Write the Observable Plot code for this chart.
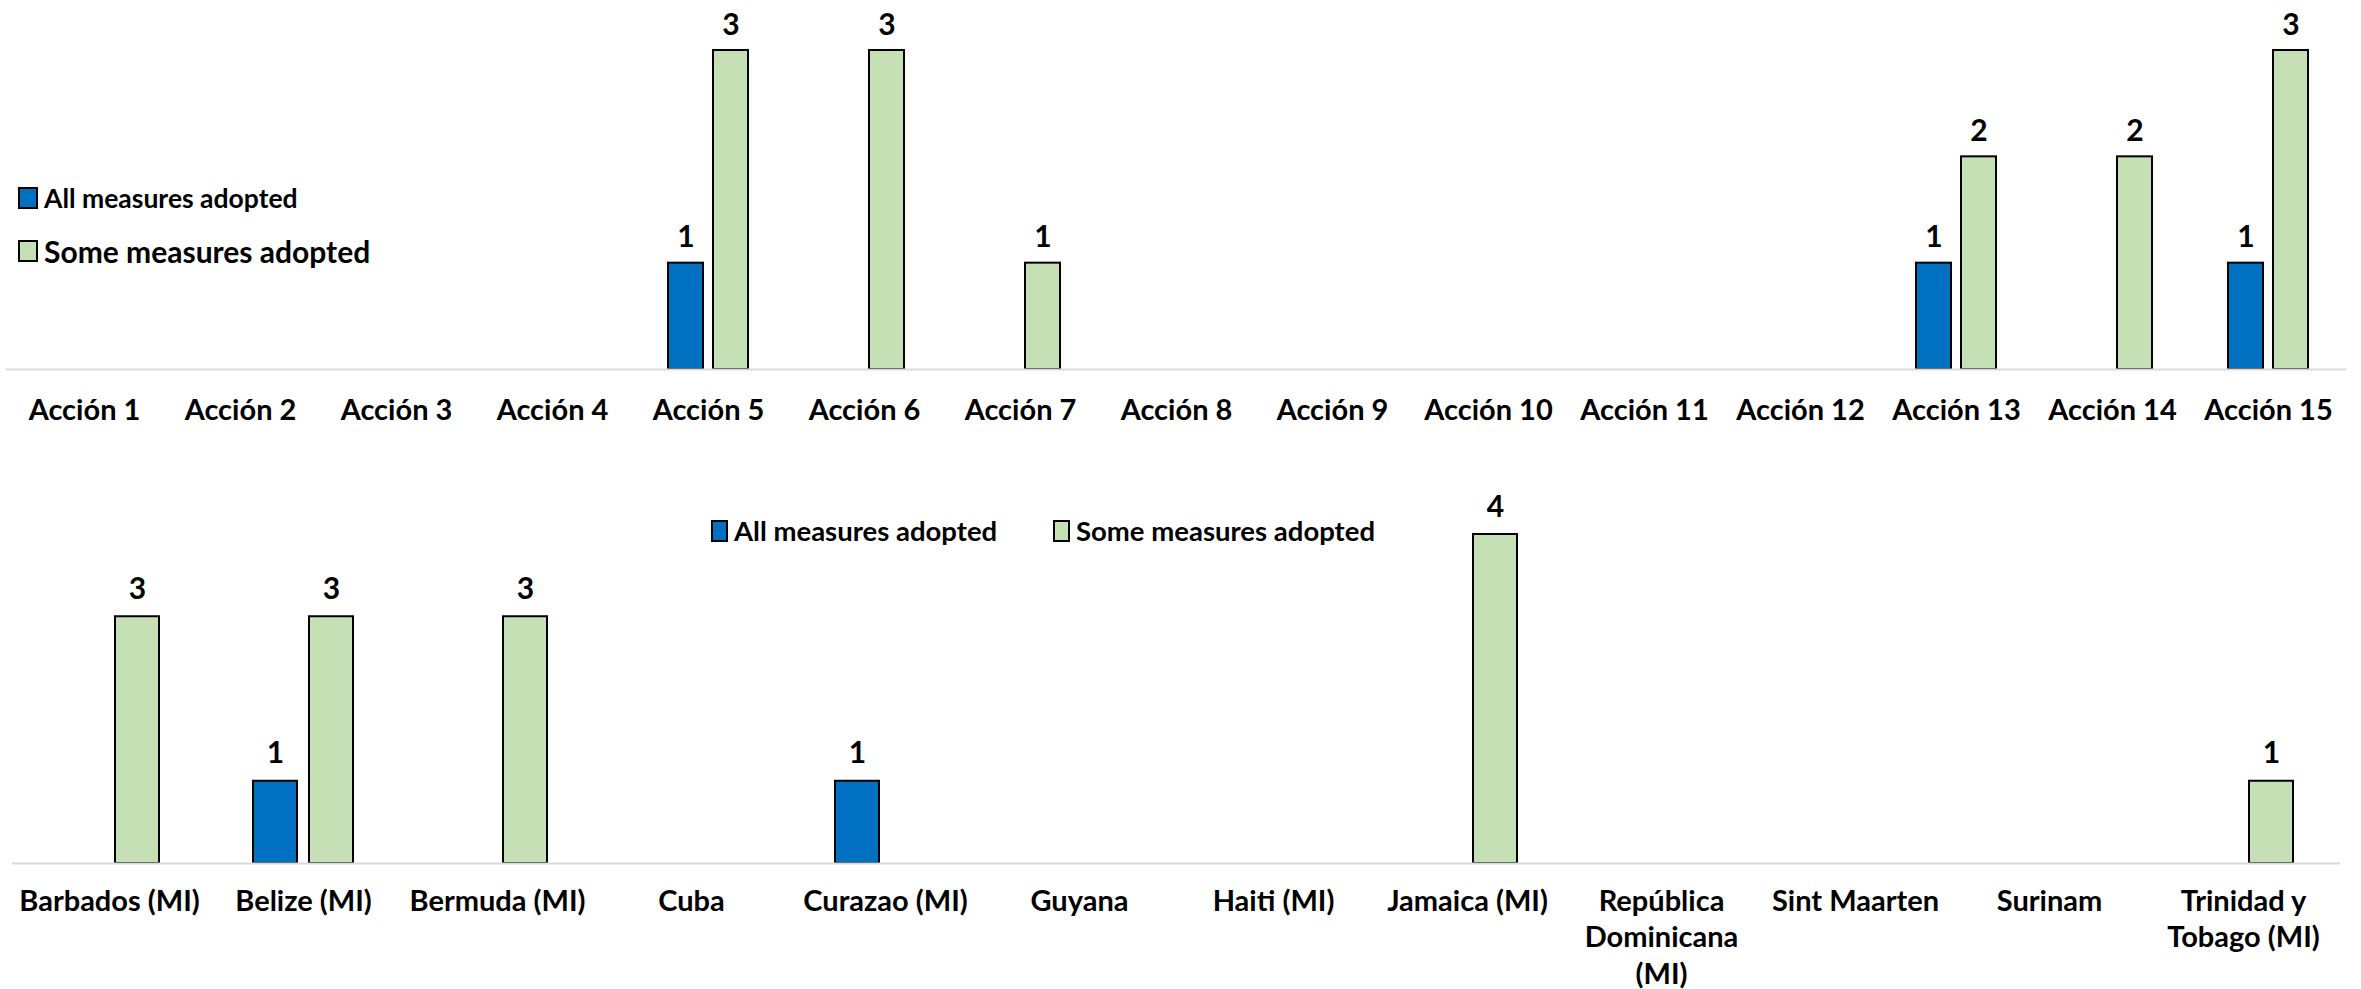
<!DOCTYPE html>
<html>
<head>
<meta charset="utf-8">
<script src="https://cdn.jsdelivr.net/npm/d3@7"></script>
<script src="https://cdn.jsdelivr.net/npm/@observablehq/plot@0.6"></script>
<style>
  html, body { margin: 0; padding: 0; background: #fff; }
  #wrap { position: relative; width: 2361px; height: 989px; font-family: Lato, "Open Sans", sans-serif; font-weight: bold; color: #000; }
  .legend { position: absolute; display: flex; align-items: center; white-space: nowrap; }
  .sw { display: inline-block; box-sizing: border-box; border: 2px solid #000; margin-right: 6px; }
  #top, #bottom { position: absolute; left: 0; }
  #top { top: 0; }
  #bottom { top: 480px; }
</style>
</head>
<body>
<div id="wrap">
  <div id="top"></div>
  <div id="bottom"></div>
  <div class="legend" style="left:18px; top:182px; font-size:26.5px;"><span class="sw" style="width:20px;height:22px;background:#0070C0"></span>All measures adopted</div>
  <div class="legend" style="left:18px; top:233px; font-size:30px;"><span class="sw" style="width:20px;height:22px;background:#C5E0B4"></span>Some measures adopted</div>
  <div class="legend" style="left:711px; top:514px; font-size:27.5px;"><span class="sw" style="width:17px;height:22px;background:#0070C0"></span>All measures adopted</div>
  <div class="legend" style="left:1053px; top:514px; font-size:27.5px;"><span class="sw" style="width:17px;height:22px;background:#C5E0B4"></span>Some measures adopted</div>
</div>
<script>
const seriesNames = ["All measures adopted", "Some measures adopted"];
const seriesColors = ["#0070C0", "#C5E0B4"];

const actions = ["Acción 1", "Acción 2", "Acción 3", "Acción 4", "Acción 5", "Acción 6", "Acción 7", "Acción 8",
  "Acción 9", "Acción 10", "Acción 11", "Acción 12", "Acción 13", "Acción 14", "Acción 15"];
const actionAll  = [0, 0, 0, 0, 1, 0, 0, 0, 0, 0, 0, 0, 1, 0, 1];
const actionSome = [0, 0, 0, 0, 3, 3, 1, 0, 0, 0, 0, 0, 2, 2, 3];

const countries = ["Barbados (MI)", "Belize (MI)", "Bermuda (MI)", "Cuba", "Curazao (MI)", "Guyana", "Haiti (MI)",
  "Jamaica (MI)", "República Dominicana (MI)", "Sint Maarten", "Surinam", "Trinidad y Tobago (MI)"];
const countryTickLabels = ["Barbados (MI)", "Belize (MI)", "Bermuda (MI)", "Cuba", "Curazao (MI)", "Guyana", "Haiti (MI)",
  "Jamaica (MI)", "República\nDominicana\n(MI)", "Sint Maarten", "Surinam", "Trinidad y\nTobago (MI)"];
const countryAll  = [0, 1, 0, 0, 1, 0, 0, 0, 0, 0, 0, 0];
const countrySome = [3, 3, 3, 0, 0, 0, 0, 4, 0, 0, 0, 1];

function rows(cats, all, some) {
  const out = [];
  cats.forEach((c, i) => {
    out.push({cat: c, series: seriesNames[0], value: all[i]});
    out.push({cat: c, series: seriesNames[1], value: some[i]});
  });
  return out.filter(d => d.value > 0);
}

function chart({cats, data, height, marginTop, marginBottom, marginLeft, marginRight, yMax, tickPadding, tickFormat, labelDy}) {
  return Plot.plot({
    width: 2361,
    height,
    marginTop, marginBottom, marginLeft, marginRight,
    style: {fontFamily: "Lato, 'Open Sans', sans-serif", fontWeight: "bold", fontSize: "29px", color: "#000", background: "transparent", overflow: "visible"},
    fx: {domain: cats, paddingInner: 0, paddingOuter: 0, label: null},
    x: {domain: seriesNames, paddingInner: 0.22, paddingOuter: 0.84, axis: null},
    y: {domain: [0, yMax], axis: null},
    color: {domain: seriesNames, range: seriesColors},
    marks: [
      Plot.barY(data, {fx: "cat", x: "series", y: "value", fill: "series", stroke: "#000", strokeWidth: 2}),
      Plot.ruleY(cats, {fx: d => d, y: () => 0, stroke: "#D9D9D9", strokeWidth: 2}),
      Plot.text(data, {fx: "cat", x: "series", y: "value", text: d => String(d.value), lineAnchor: "bottom", dy: labelDy,
        fontSize: 30, fontWeight: "bold", fill: "#000"}),
      Plot.axisFx({anchor: "bottom", tickSize: 0, tickPadding, label: null, fontSize: 29, fontWeight: "bold",
        fill: "#000", lineHeight: 1.25, tickFormat})
    ]
  });
}

document.getElementById("top").appendChild(chart({
  cats: actions,
  data: rows(actions, actionAll, actionSome),
  height: 480, marginTop: 50, marginBottom: 111, marginLeft: 0, marginRight: 10,
  yMax: 3, tickPadding: 25, tickFormat: d => d, labelDy: -16
}));

document.getElementById("bottom").appendChild(chart({
  cats: countries,
  data: rows(countries, countryAll, countrySome),
  height: 509, marginTop: 54, marginBottom: 126, marginLeft: 9, marginRight: 18,
  yMax: 4, tickPadding: 22, tickFormat: d => countryTickLabels[countries.indexOf(d)], labelDy: -18
}));
</script>
</body>
</html>
